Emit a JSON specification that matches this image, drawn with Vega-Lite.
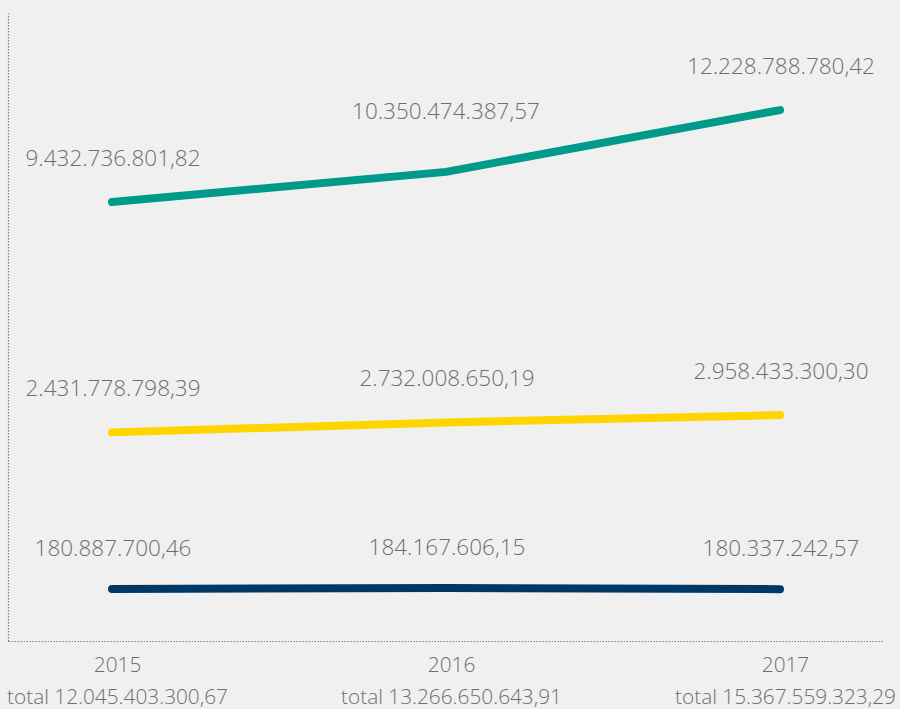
{
  "$schema": "https://vega.github.io/schema/vega-lite/v6.json",
  "width": 876,
  "height": 628,
  "autosize": "none",
  "padding": {"left": 8, "top": 13, "right": 16, "bottom": 68},
  "background": "#f0f0f0",
  "config": {
    "view": {"stroke": null},
    "font": "Open Sans"
  },
  "data": {
    "values": [
      {"period": "2015|total 12.045.403.300,67", "series": "A", "value": 9432736801.82, "text": "9.432.736.801,82"},
      {"period": "2016|total 13.266.650.643,91", "series": "A", "value": 10350474387.57, "text": "10.350.474.387,57"},
      {"period": "2017|total 15.367.559.323,29", "series": "A", "value": 12228788780.42, "text": "12.228.788.780,42"},
      {"period": "2015|total 12.045.403.300,67", "series": "B", "value": 2431778798.39, "text": "2.431.778.798,39"},
      {"period": "2016|total 13.266.650.643,91", "series": "B", "value": 2732008650.19, "text": "2.732.008.650,19"},
      {"period": "2017|total 15.367.559.323,29", "series": "B", "value": 2958433300.30, "text": "2.958.433.300,30"},
      {"period": "2015|total 12.045.403.300,67", "series": "C", "value": 180887700.46, "text": "180.887.700,46"},
      {"period": "2016|total 13.266.650.643,91", "series": "C", "value": 184167606.15, "text": "184.167.606,15"},
      {"period": "2017|total 15.367.559.323,29", "series": "C", "value": 180337242.57, "text": "180.337.242,57"}
    ]
  },
  "encoding": {
    "x": {
      "field": "period",
      "type": "ordinal",
      "scale": {"type": "point", "padding": 0.3114},
      "axis": {
        "title": null,
        "labelAngle": 0,
        "labelExpr": "split(datum.value, '|')",
        "labelFont": "Open Sans",
        "labelFontWeight": 300,
        "labelFontSize": 20.8,
        "labelColor": "#6e6e6e",
        "labelLineHeight": 32,
        "labelPadding": 14,
        "labelBaseline": "top",
        "labelLimit": 0,
        "labelOffset": 5,
        "ticks": false,
        "grid": false,
        "domainColor": "#808080",
        "domainWidth": 1.2,
        "domainDash": [1.5, 1.5],
        "labelOverlap": false
      }
    }
  },
  "layer": [
    {
      "transform": [{"filter": "datum.series != 'C'"}],
      "encoding": {
        "y": {
          "field": "value",
          "type": "quantitative",
          "scale": {"domain": [-3910000000, 15180000000], "nice": false, "zero": false},
          "axis": {
            "title": null,
            "labels": false,
            "ticks": false,
            "grid": false,
            "domainColor": "#808080",
            "domainWidth": 1.2,
            "domainDash": [1.5, 1.5]
          }
        }
      },
      "layer": [
        {
          "mark": {"type": "line", "strokeWidth": 8, "strokeCap": "round", "strokeJoin": "round"},
          "encoding": {
            "color": {
              "field": "series",
              "type": "nominal",
              "scale": {"domain": ["A", "B"], "range": ["#009a8b", "#ffd400"]},
              "legend": null
            }
          }
        },
        {
          "transform": [{"filter": "!(datum.series == 'A' && indexof(datum.period, '2016') == 0)"}],
          "mark": {"type": "text", "baseline": "middle", "dy": -43, "dx": 1, "fontSize": 22.5, "fontWeight": 300, "color": "#6e6e6e"},
          "encoding": {"text": {"field": "text"}}
        },
        {
          "transform": [{"filter": "datum.series == 'A' && indexof(datum.period, '2016') == 0"}],
          "mark": {"type": "text", "baseline": "middle", "dy": -60, "dx": 0, "fontSize": 22.5, "fontWeight": 300, "color": "#6e6e6e"},
          "encoding": {"text": {"field": "text"}}
        }
      ]
    },
    {
      "transform": [{"filter": "datum.series == 'C'"}],
      "encoding": {
        "y": {
          "field": "value",
          "type": "quantitative",
          "scale": {"domain": [0, 2185000000], "nice": false},
          "axis": null
        }
      },
      "layer": [
        {
          "mark": {"type": "line", "strokeWidth": 8, "strokeCap": "round", "strokeJoin": "round", "color": "#003865"}
        },
        {
          "mark": {"type": "text", "baseline": "middle", "dy": -40, "dx": 1, "fontSize": 22.5, "fontWeight": 300, "color": "#6e6e6e"},
          "encoding": {"text": {"field": "text"}}
        }
      ]
    }
  ],
  "resolve": {"scale": {"y": "independent"}}
}
